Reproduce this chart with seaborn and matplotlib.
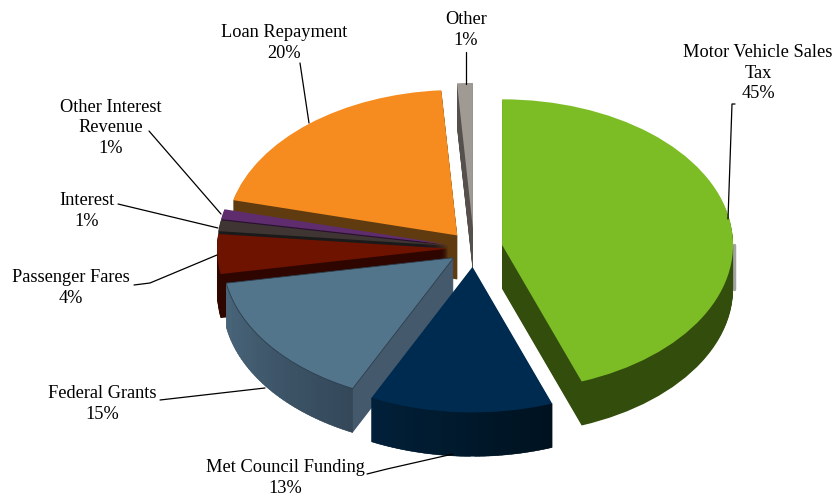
import numpy as np
import matplotlib
matplotlib.use('Agg')
import matplotlib.pyplot as plt
import seaborn as sns

# Revenue shares (printed labels are rounded)
categories = ['Motor Vehicle Sales\nTax', 'Met Council Funding', 'Federal Grants', 'Passenger Fares',
              'Interest', 'Other Interest\nRevenue', 'Loan Repayment', 'Other']
shares = [44.4, 12.8, 15.0, 4.4, 1.2, 1.1, 20.0, 1.1]
printed = ['45%', '13%', '15%', '4%', '1%', '1%', '20%', '1%']

top_colors = ['#7cbd26', '#002b50', '#53758c', '#6e1300', '#3f3634', '#5f2d6e', '#f68b1f', '#a09a95']
side_colors = ['#334d0c', '#01203a', '#44596b', '#2f0500', '#1a1a1a', '#2a1030', '#5f3b0f', '#55504c']
explode = [28.5, 30, 25.5, 26, 26, 26, 26, 31]
draw_rank = [6, 7, 5, 4, 3, 2, 1, 0]  # back to front

# label centre in pixels for each category
label_pos = [(758, 73), (285, 478), (102, 404), (71, 288), (87, 211), (111, 128), (284, 43), (466, 30)]
# leader lines in pixels
leaders = [
    [(735, 104), (732, 104), (728, 219)],
    [(367, 474), (387, 469), (453, 454)],
    [(160, 400), (265, 388)],
    [(134, 285), (150, 283), (217, 255)],
    [(118, 204), (218, 228)],
    [(149, 131), (221, 214)],
    [(300, 63), (309, 123)],
    [(466, 52), (466, 84)],
]

squash = 0.63
depth = 44
radius = 231
cx, cy = 474, (500 - 248) / squash

sns.set_theme(style='white')
plt.rcParams['font.family'] = ['Liberation Serif', 'DejaVu Serif']

fig = plt.figure(figsize=(8.34, 5), dpi=100)
ax = fig.add_axes([0, 0, 1, 1])


def draw_pie(center, colors, z):
    wedges, _ = ax.pie(shares, explode=explode, colors=colors, startangle=90, counterclock=False,
                       radius=radius, center=center, wedgeprops={'linewidth': 0})
    for w, r in zip(wedges, draw_rank):
        w.set_zorder(r * 100 + z)
    return wedges


# extruded sides, one thin copy of the pie per pixel of depth
for k in range(depth, 0, -1):
    draw_pie((cx, cy - k / squash), side_colors, depth - k)

top = draw_pie((cx, cy), top_colors, 60)
top[2].set_edgecolor('#2c3e4c')
top[2].set_linewidth(0.6)

# shaded outer rim on the steel and navy slices
rims = {2: ('#4a677c', '#34485a'), 1: ('#012039', '#00121f')}
for i, (c1, c2) in rims.items():
    w = top[i]
    thetas = np.linspace(w.theta1, w.theta2, 41)
    shades = sns.blend_palette([c1, c2], len(thetas) - 1)
    for t1, t2, shade in zip(thetas[:-1], thetas[1:], shades):
        xs = w.center[0] + w.r * np.cos(np.radians([t1, t2, t2, t1]))
        ys = w.center[1] + w.r * np.sin(np.radians([t1, t2, t2, t1]))
        ys = ys - np.array([0, 0, depth, depth]) / squash
        ax.fill(xs, ys, color=shade, lw=0.3, zorder=draw_rank[i] * 100 + 50)

# grey sliver on the right of the green slice
g = top[0]
ax.plot([g.center[0] + g.r + 1] * 2, [g.center[1], g.center[1] - depth / squash],
        color='#a3a3a3', lw=2.5, zorder=5)

ax.set_aspect('auto')
ax.set_xlim(0, 834)
ax.set_ylim(0, 500 / squash)
ax.axis('off')

# labels and leader lines in pixel coordinates
lab = fig.add_axes([0, 0, 1, 1], facecolor='none')
lab.set_xlim(0, 834)
lab.set_ylim(500, 0)
lab.axis('off')
for name, pct, (x, y), line in zip(categories, printed, label_pos, leaders):
    lab.text(x, y, name + '\n' + pct, ha='center', va='center', fontsize=13.2,
             color='black', linespacing=1.3)
    lab.plot([p[0] for p in line], [p[1] for p in line], color='black', lw=0.9)

fig.savefig('out.png', dpi=100)
